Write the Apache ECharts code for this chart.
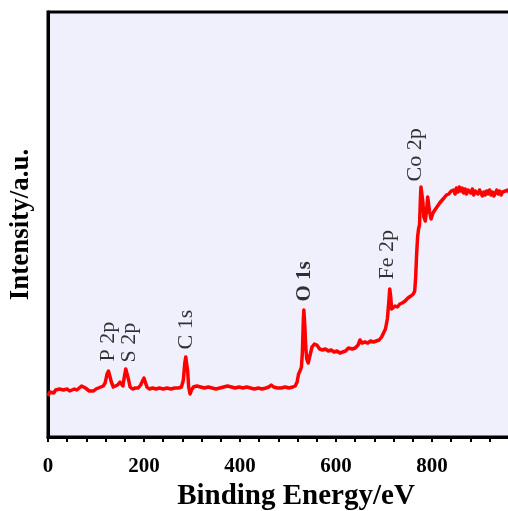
<!DOCTYPE html>
<html>
<head>
<meta charset="utf-8">
<script src="https://cdn.jsdelivr.net/npm/echarts@6/dist/echarts.min.js"></script>
<style>
  html, body { margin: 0; padding: 0; background: #ffffff; overflow: hidden; }
  #chart { width: 530px; height: 511px; }
</style>
</head>
<body>
<div id="chart"></div>
<script>
// XPS survey spectrum: binding energy (eV) vs. intensity (a.u.)
const bindingEnergy = [
  0, 4, 8, 12, 16, 20, 24, 28, 32, 36, 40, 45, 50, 55, 60, 65, 70, 74, 78, 82, 86, 90, 95, 100, 105, 110, 115,
  119, 123, 126, 129, 132, 136, 140, 145, 150, 153, 156, 159, 162, 165, 168, 171, 176, 182, 188, 193, 197, 200, 203, 206,
  211, 218, 225, 232, 240, 248, 256, 264, 272, 278, 282, 285, 287, 289, 291, 293, 296, 299, 303, 310, 318, 326, 334,
  342, 350, 358, 366, 374, 378, 382, 390, 398, 406, 414, 422, 430, 438, 446, 454, 460, 465, 470, 478, 486, 494, 502,
  510, 515, 519, 522, 525, 528, 530, 532, 533, 535, 537, 539, 542, 546, 550, 555, 560, 566, 572, 578, 584, 590, 596,
  602, 608, 614, 620, 626, 630, 634, 640, 646, 650, 654, 660, 666, 672, 678, 684, 690, 695, 699, 703, 707, 710, 712,
  714, 716, 719, 723, 728, 733, 738, 744, 750, 756, 761, 764, 766, 768, 770, 772, 774, 776, 777, 779, 781, 783, 786,
  789, 791, 793, 795, 798, 802, 806, 810, 816, 820, 825, 830, 835, 840, 845, 848, 851, 854, 857, 860, 863, 866, 869,
  872, 875, 878, 881, 884, 887, 890, 893, 896, 899, 902, 905, 908, 911, 914, 917, 920, 923, 926, 929, 932, 935, 938,
  941, 944, 947, 950, 953, 956, 959, 962, 966, 970, 975, 980, 985, 990, 995, 1000
];
const intensity = [
  41, 45, 46, 44, 47, 46, 48, 50, 47, 46, 48, 46, 47, 48, 47, 49, 51, 52, 49, 47, 46, 47, 46, 48, 49, 50, 51,
  54, 63, 66, 65, 55, 50, 50, 52, 55, 53, 51, 60, 68, 67, 57, 50, 48, 49, 49, 52, 56, 59, 57, 50,
  48, 49, 48, 49, 48, 49, 48, 49, 49, 50, 57, 74, 80, 78, 66, 50, 43, 47, 50, 51, 50, 49, 50,
  49, 48, 49, 50, 51, 52, 50, 49, 50, 49, 50, 49, 48, 49, 48, 49, 50, 52, 50, 49, 49, 50, 49,
  50, 51, 55, 63, 66, 70, 85, 118, 127, 112, 90, 78, 74, 82, 90, 93, 92, 88, 87, 88, 86, 87, 85,
  86, 84, 85, 86, 89, 91, 88, 89, 92, 97, 94, 95, 94, 96, 95, 96, 97, 100, 104, 108, 118, 135, 148,
  140, 128, 126, 131, 130, 133, 134, 136, 139, 141, 143, 146, 160, 183, 200, 208, 212, 240, 250, 251, 235, 220, 216,
  228, 240, 238, 225, 218, 224, 227, 229, 234, 236, 239, 242, 243, 246, 247, 243, 249, 245, 250, 246, 249, 244, 248,
  243, 247, 249, 244, 248, 242, 246, 248, 243, 247, 245, 241, 245, 242, 246, 243, 247, 242, 245, 241, 244, 247, 243,
  246, 242, 245, 243, 246, 244, 247, 243, 245, 244, 246, 243, 245, 244, 246, 244
];

// Peak assignments and where their labels start
const peakNames = ['P 2p', 'S 2p', 'C 1s', 'O 1s', 'Fe 2p', 'Co 2p'];
const peakLabelEnergy = [126, 171, 288, 536, 708, 766];
const peakLabelLevel = [75, 74, 87, 135, 157, 255];
const peakLabelBold = [false, false, false, true, false, false];

const xTickStep = 200;
const xMin = 0, xMax = 1000;
const yMin = 0, yMax = 425;

const serif = '"Liberation Serif", "Times New Roman", serif';

const spectrum = bindingEnergy.map((e, i) => [e, intensity[i]]);
const peakLabels = peakNames.map((name, i) => ({
  value: [peakLabelEnergy[i], peakLabelLevel[i]],
  name: name,
  label: { fontWeight: peakLabelBold[i] ? 'bold' : 'normal', fontSize: peakLabelBold[i] ? 21 : 22 }
}));

const chart = echarts.init(document.getElementById('chart'), null, { renderer: 'canvas' });
chart.setOption({
  animation: false,
  backgroundColor: '#ffffff',
  grid: {
    left: 48, right: 2, top: 12, bottom: 74,
    outerBoundsMode: 'none',
    containLabel: false,
    show: true,
    backgroundColor: '#f0f0fc',
    borderColor: '#000000',
    borderWidth: 3
  },
  xAxis: {
    type: 'value',
    min: xMin, max: xMax, interval: xTickStep,
    name: 'Binding Energy/eV',
    nameLocation: 'middle',
    nameGap: 38,
    nameTextStyle: { fontFamily: serif, fontWeight: 'bold', fontSize: 29, color: '#000', padding: [0, 0, 0, 16] },
    axisLine: { show: true, onZero: false, lineStyle: { color: '#000', width: 3 } },
    axisTick: { show: true, inside: false, length: 5, lineStyle: { color: '#000', width: 2 } },
    minorTick: { show: true, splitNumber: 5, length: 5, lineStyle: { color: '#000', width: 2 } },
    axisLabel: { fontFamily: serif, fontWeight: 'bold', fontSize: 21, color: '#000', margin: 19, showMaxLabel: false },
    splitLine: { show: false }
  },
  yAxis: {
    type: 'value',
    min: yMin, max: yMax,
    name: 'Intensity/a.u.',
    nameLocation: 'middle',
    nameGap: 13,
    nameTextStyle: { fontFamily: serif, fontWeight: 'bold', fontSize: 27, color: '#000' },
    axisLine: { show: true, onZero: false, lineStyle: { color: '#000', width: 3 } },
    axisTick: { show: false },
    axisLabel: { show: false },
    splitLine: { show: false }
  },
  series: [
    {
      type: 'line',
      data: spectrum,
      showSymbol: false,
      symbol: 'none',
      lineStyle: { color: '#ff0000', width: 3.5, join: 'round' },
      z: 3
    },
    {
      type: 'scatter',
      data: peakLabels,
      symbolSize: 1,
      itemStyle: { color: 'rgba(0,0,0,0)' },
      label: {
        show: true,
        formatter: '{b}',
        position: [0, 0],
        rotate: 90,
        align: 'left',
        verticalAlign: 'middle',
        fontFamily: serif,
        color: '#000'
      },
      z: 4
    }
  ]
});
</script>
</body>
</html>
